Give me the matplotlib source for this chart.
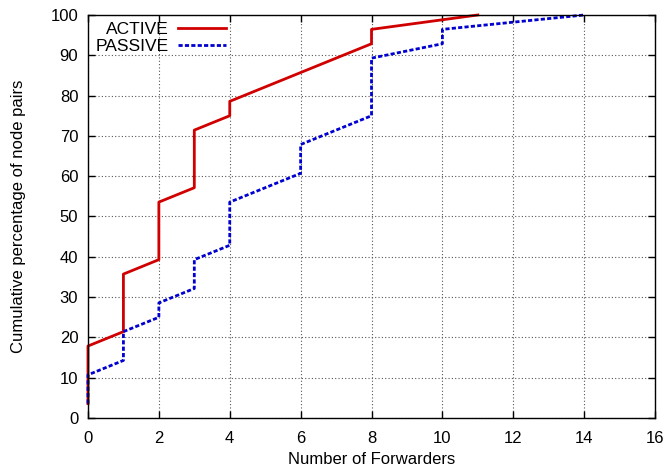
import matplotlib
matplotlib.use("Agg")
import matplotlib.pyplot as plt
from matplotlib.ticker import MultipleLocator

plt.rcParams['font.family'] = ['Liberation Sans', 'DejaVu Sans']

active_x = [0, 0, 1, 1, 2, 2, 3, 3, 4, 4, 8, 8, 11]
active_y = [3.57, 17.86, 21.43, 35.71, 39.29, 53.57, 57.14, 71.43, 75.0, 78.57, 92.86, 96.43, 100.0]
passive_x = [0, 0, 1, 1, 2, 2, 3, 3, 4, 4, 6, 6, 8, 8, 10, 10, 14]
passive_y = [3.57, 10.71, 14.29, 21.43, 25.0, 28.57, 32.14, 39.29, 42.86, 53.57, 60.71, 67.86, 75.0, 89.29, 92.86, 96.43, 100.0]

fig = plt.figure(figsize=(6.63, 4.68), dpi=100)
ax = fig.add_axes([0.1327, 0.1068, 0.8553, 0.8612])

ax.plot(active_x, active_y, color='#d00000', lw=2.0, label='ACTIVE', clip_on=False)
ax.plot(passive_x, passive_y, color='#0000d0', lw=2.0, ls=(0, (1.5, 0.8)), label='PASSIVE', clip_on=False)

ax.set_xlim(0, 16)
ax.set_ylim(0, 100)
ax.xaxis.set_major_locator(MultipleLocator(2))
ax.yaxis.set_major_locator(MultipleLocator(10))
ax.grid(True, color='#555555', ls=(0, (1, 2)), lw=0.8)
ax.tick_params(direction='in', top=True, right=True, labelsize=12, length=5, width=1)
ax.tick_params(axis='x', pad=9)
ax.tick_params(axis='y', pad=7)
for s in ax.spines.values():
    s.set_linewidth(1)
ax.set_xlabel('Number of Forwarders', fontsize=12, labelpad=5)
ax.set_ylabel('Cumulative percentage of node pairs', fontsize=12)
ax.yaxis.set_label_coords(-0.11, 0.5)

leg = ax.legend(loc='upper left', frameon=False, markerfirst=False, fontsize=12.5,
                handlelength=2.8, handletextpad=0.5, borderaxespad=0.0,
                bbox_to_anchor=(0.002, 1.0), labelspacing=0.1)
for t in leg.get_texts():
    t.set_ha('right')

fig.savefig('out.png', dpi=100)
